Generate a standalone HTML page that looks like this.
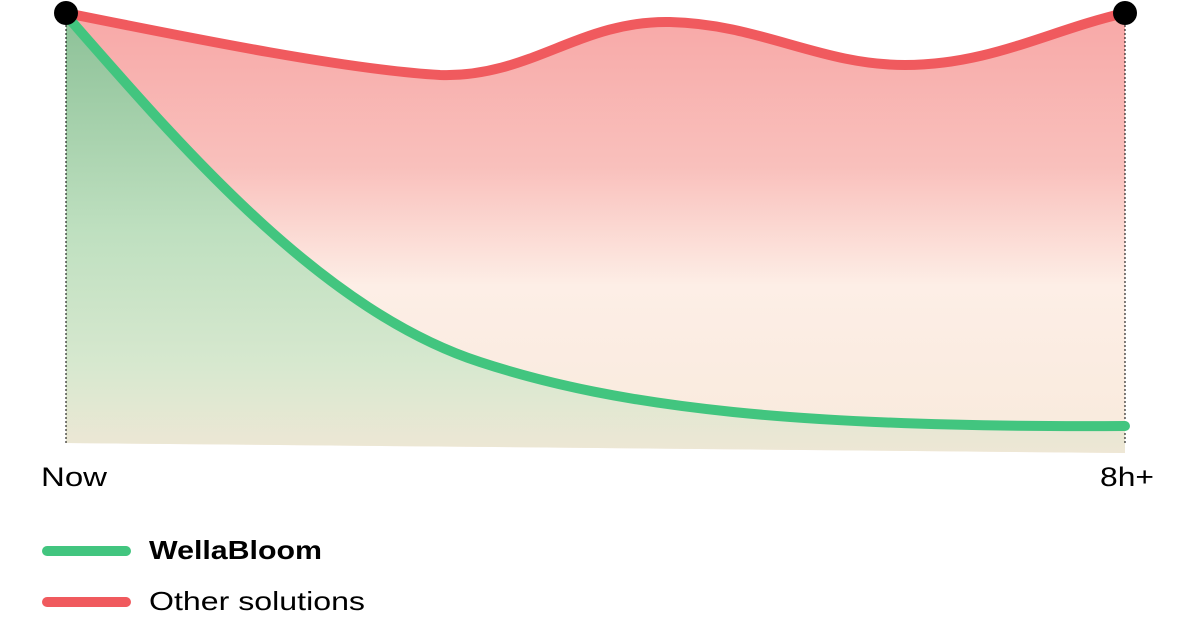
<!DOCTYPE html>
<html><head><meta charset="utf-8"><style>
html,body{margin:0;padding:0;background:#fff;width:1200px;height:627px;overflow:hidden}
svg text{font-family:"Liberation Sans",sans-serif}
</style></head><body>
<svg width="1200" height="627" viewBox="0 0 1200 627" xmlns="http://www.w3.org/2000/svg">
<defs>
<linearGradient id="rg" x1="0" y1="0" x2="0" y2="1" gradientUnits="objectBoundingBox">
<stop offset="0" stop-color="#f8a8a7"/>
<stop offset="0.35" stop-color="#f9c0bc"/>
<stop offset="0.62" stop-color="#fdeee6"/>
<stop offset="1" stop-color="#f8eadc"/>
</linearGradient>
<linearGradient id="gg" x1="0" y1="0" x2="0" y2="1">
<stop offset="0" stop-color="#8cc197"/>
<stop offset="0.5" stop-color="#bfe0c0"/>
<stop offset="0.8" stop-color="#d7e8cf"/>
<stop offset="1" stop-color="#eee7d5"/>
</linearGradient>
</defs>
<path d="M66,13 C200,40 350,70 440,75 C530,78 580,20 670,22 C760,24 820,65 905,65 C990,65 1050,30 1125,13 L1125,453 L66,443 Z" fill="url(#rg)"/>
<path d="M66,15 C180,145 320,310 480,362 C620,408 800,428 1125,426 L1125,453 L66,443 Z" fill="url(#gg)"/>
<line x1="66" y1="13" x2="66" y2="445" stroke="#000" stroke-width="1" stroke-dasharray="2,2"/>
<line x1="1125" y1="13" x2="1125" y2="445" stroke="#000" stroke-width="1" stroke-dasharray="2,2"/>
<path d="M66,13 C200,40 350,70 440,75 C530,78 580,20 670,22 C760,24 820,65 905,65 C990,65 1050,30 1125,13" fill="none" stroke="#f05a5e" stroke-width="10"/>
<path d="M66,15 C180,145 320,310 480,362 C620,408 800,428 1125,426" fill="none" stroke="#42c57f" stroke-width="10" stroke-linecap="round"/>
<circle cx="66" cy="13" r="12" fill="#000"/>
<circle cx="1125" cy="13" r="12" fill="#000"/>
<text x="41" y="486" font-size="27" fill="#000" textLength="66" lengthAdjust="spacingAndGlyphs">Now</text>
<text x="1100" y="486" font-size="27" fill="#000" textLength="54" lengthAdjust="spacingAndGlyphs">8h+</text>
<line x1="47" y1="551" x2="126" y2="551" stroke="#42c57f" stroke-width="10" stroke-linecap="round"/>
<line x1="47" y1="602" x2="126" y2="602" stroke="#f05a5e" stroke-width="10" stroke-linecap="round"/>
<text x="149" y="559" font-size="26" font-weight="bold" fill="#000" textLength="173" lengthAdjust="spacingAndGlyphs">WellaBloom</text>
<text x="149" y="610" font-size="26" fill="#000" textLength="216" lengthAdjust="spacingAndGlyphs">Other solutions</text>
</svg>
</body></html>
